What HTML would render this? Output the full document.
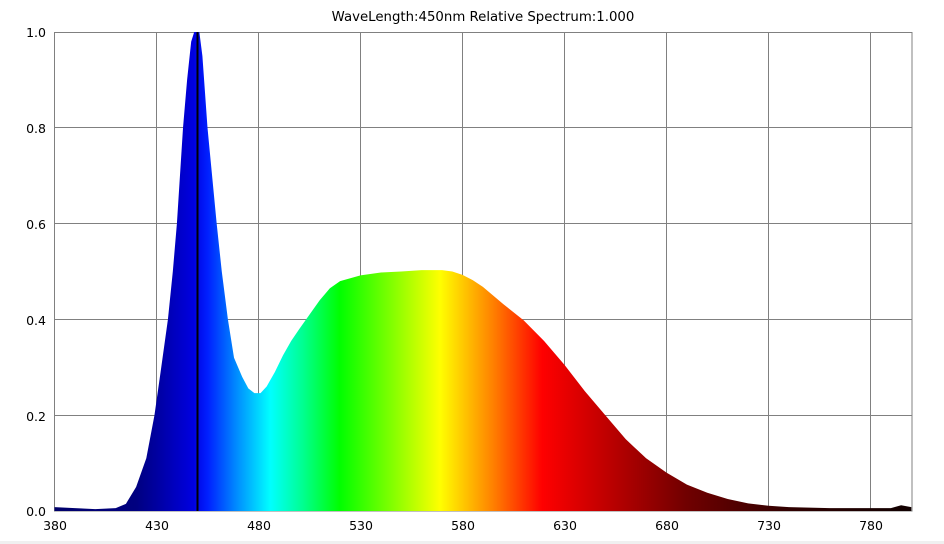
<!DOCTYPE html>
<html><head><meta charset="utf-8"><style>
html,body{margin:0;padding:0;background:#fff;}
svg{display:block;}
text{font-family:"DejaVu Sans","Liberation Sans",sans-serif;font-size:12.5px;fill:#000;}
</style></head><body>
<svg width="944" height="544" viewBox="0 0 944 544" xmlns="http://www.w3.org/2000/svg">
<defs>
<linearGradient id="sp" gradientUnits="userSpaceOnUse" x1="380" y1="0" x2="800" y2="0">
<stop offset="0" stop-color="#00006a"/>
<stop offset="0.095" stop-color="#000080"/>
<stop offset="0.119" stop-color="#0000a0"/>
<stop offset="0.162" stop-color="#0000e0"/>
<stop offset="0.179" stop-color="#0020ff"/>
<stop offset="0.214" stop-color="#0090ff"/>
<stop offset="0.252" stop-color="#00ffff"/>
<stop offset="0.29" stop-color="#00ff90"/>
<stop offset="0.333" stop-color="#00ff00"/>
<stop offset="0.393" stop-color="#80ff00"/>
<stop offset="0.45" stop-color="#ffff00"/>
<stop offset="0.512" stop-color="#ff8000"/>
<stop offset="0.569" stop-color="#ff0000"/>
<stop offset="0.643" stop-color="#c00000"/>
<stop offset="0.738" stop-color="#700000"/>
<stop offset="0.857" stop-color="#300000"/>
<stop offset="1" stop-color="#100000"/>
</linearGradient>
</defs>
<text x="483" y="21" text-anchor="middle" style="font-size:13.3px">WaveLength:450nm  Relative Spectrum:1.000</text>
<g stroke="#808080" stroke-width="1">
<line x1="156.5" y1="32" x2="156.5" y2="511"/>
<line x1="258.5" y1="32" x2="258.5" y2="511"/>
<line x1="360.5" y1="32" x2="360.5" y2="511"/>
<line x1="462.5" y1="32" x2="462.5" y2="511"/>
<line x1="564.5" y1="32" x2="564.5" y2="511"/>
<line x1="666.5" y1="32" x2="666.5" y2="511"/>
<line x1="768.5" y1="32" x2="768.5" y2="511"/>
<line x1="870.5" y1="32" x2="870.5" y2="511"/>
<line x1="54.5" y1="127.5" x2="912" y2="127.5"/>
<line x1="54.5" y1="223.5" x2="912" y2="223.5"/>
<line x1="54.5" y1="319.5" x2="912" y2="319.5"/>
<line x1="54.5" y1="415.5" x2="912" y2="415.5"/>
<rect x="54.5" y="32.5" width="857.5" height="478.5" fill="none"/>
</g>
<g transform="translate(54.5,511) scale(2.04,-479) translate(-380,0)">
<path fill="url(#sp)" d="M380,0 L380,0.008 L390,0.006 L400,0.004 L410,0.006 L415,0.015 L420,0.05 L425,0.11 L429,0.2 L432,0.29 L435.6,0.4 L438,0.5 L440,0.6 L443,0.8 L445,0.9 L447,0.98 L448.5,1 L451,1 L452.5,0.95 L455,0.8 L459.5,0.6 L462,0.5 L465,0.4 L468,0.32 L472,0.28 L475,0.256 L478,0.246 L481,0.246 L484,0.26 L488,0.29 L492,0.325 L496,0.355 L500,0.38 L505,0.41 L510,0.44 L515,0.465 L520,0.48 L530,0.492 L540,0.498 L550,0.5 L560,0.503 L570,0.503 L575,0.5 L580,0.493 L585,0.482 L590,0.468 L595,0.45 L600,0.432 L605,0.415 L610,0.398 L620,0.355 L630,0.305 L640,0.25 L650,0.2 L660,0.15 L670,0.11 L680,0.08 L690,0.055 L700,0.038 L710,0.025 L720,0.016 L730,0.011 L740,0.008 L760,0.006 L790,0.006 L795,0.012 L800,0.008 L800,0 Z"/>
</g>
<line x1="197.5" y1="32" x2="197.5" y2="511" stroke="#000" stroke-width="2"/>
<g text-anchor="end">
<text x="46" y="37">1.0</text>
<text x="46" y="133">0.8</text>
<text x="46" y="229">0.6</text>
<text x="46" y="325">0.4</text>
<text x="46" y="421">0.2</text>
<text x="46" y="516">0.0</text>
</g>
<g text-anchor="middle">
<text x="55" y="530">380</text>
<text x="157" y="530">430</text>
<text x="259" y="530">480</text>
<text x="361" y="530">530</text>
<text x="463" y="530">580</text>
<text x="565" y="530">630</text>
<text x="667" y="530">680</text>
<text x="769" y="530">730</text>
<text x="871" y="530">780</text>
</g>
<rect x="0" y="541" width="944" height="3" fill="#f0f0f0"/>
</svg>
</body></html>
